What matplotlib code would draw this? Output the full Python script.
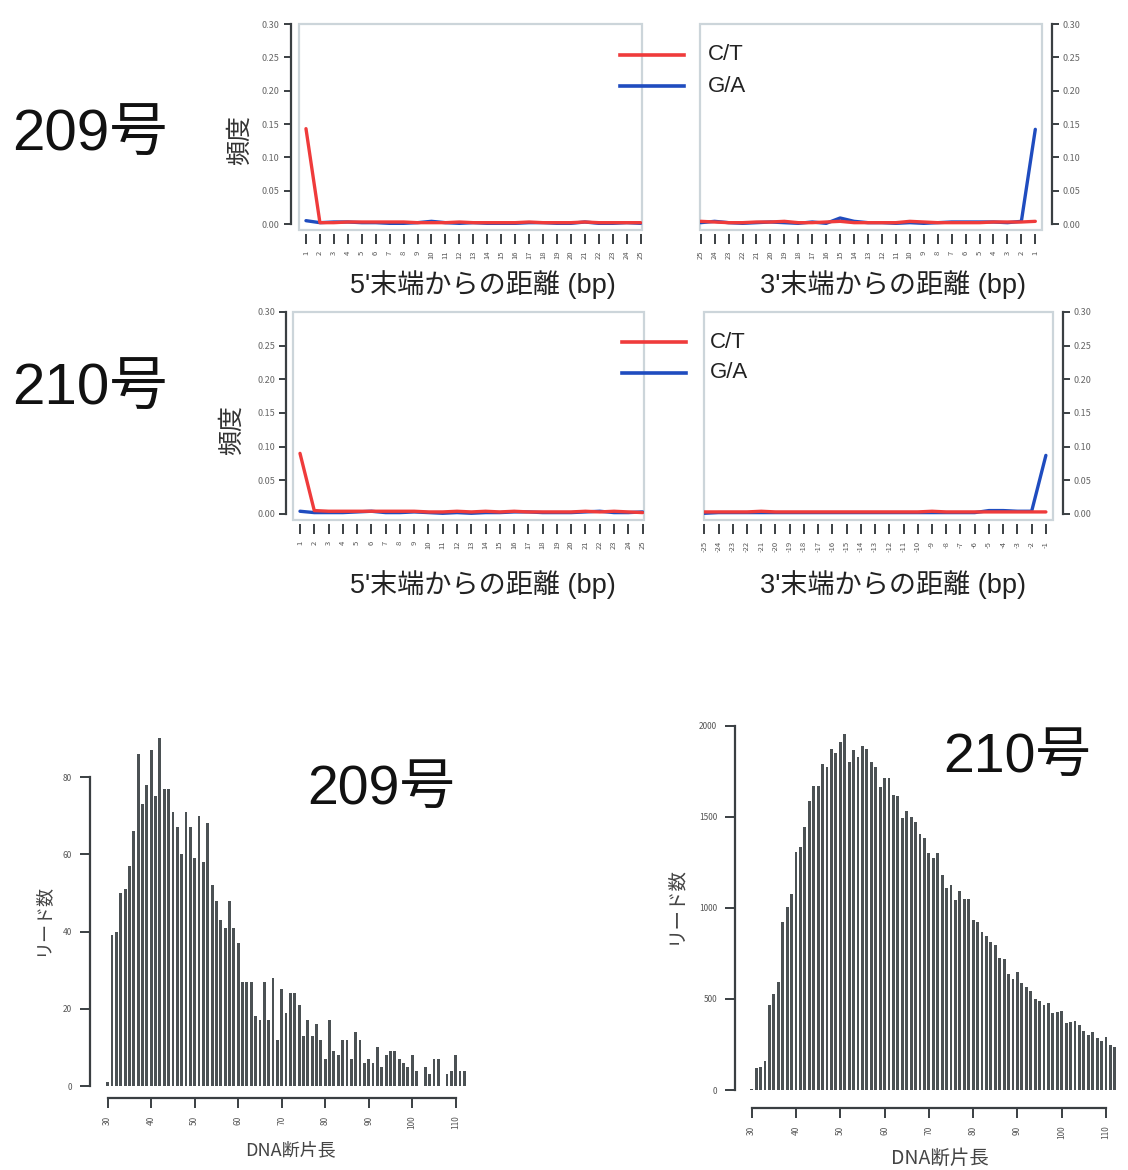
import matplotlib
matplotlib.use("Agg")
import matplotlib.pyplot as plt
from matplotlib.patches import Rectangle

W, H = 1128, 1170
JP = ["Noto Sans CJK JP", "DejaVu Sans"]
LAT = ["Liberation Sans", "Noto Sans CJK JP"]
plt.rcParams["font.family"] = JP

RED = "#ef3b3b"
BLUE = "#1f4cbf"
DARK = "#3a3f42"
BOX = "#ccd5da"
BAR = "#4b5154"

# damage plots: positions 1..25 from the read end
pos = list(range(1, 26))
labels_5p = [str(i) for i in range(1, 26)]
labels_3p_209 = [str(i) for i in range(25, 0, -1)]
labels_3p_210 = [str(-i) for i in range(25, 0, -1)]

ct_209_5 = [0.143, 0.002, 0.002, 0.003, 0.003, 0.003, 0.003, 0.003, 0.002, 0.002, 0.002, 0.003, 0.002,
            0.002, 0.002, 0.002, 0.003, 0.002, 0.002, 0.002, 0.003, 0.002, 0.002, 0.002, 0.002]
ga_209_5 = [0.005, 0.002, 0.003, 0.003, 0.002, 0.002, 0.001, 0.001, 0.002, 0.004, 0.002, 0.001, 0.002,
            0.001, 0.001, 0.001, 0.002, 0.002, 0.001, 0.001, 0.003, 0.001, 0.001, 0.002, 0.001]
ct_209_3 = [0.004, 0.003, 0.002, 0.002, 0.003, 0.003, 0.004, 0.002, 0.002, 0.003, 0.004, 0.002, 0.002,
            0.002, 0.002, 0.004, 0.003, 0.002, 0.002, 0.002, 0.002, 0.003, 0.003, 0.003, 0.004]
ga_209_3 = [0.002, 0.004, 0.002, 0.001, 0.002, 0.003, 0.002, 0.001, 0.003, 0.001, 0.009, 0.004, 0.002,
            0.002, 0.001, 0.002, 0.001, 0.002, 0.003, 0.003, 0.003, 0.003, 0.002, 0.004, 0.142]
ct_210_5 = [0.090, 0.005, 0.004, 0.004, 0.004, 0.004, 0.004, 0.004, 0.004, 0.003, 0.003, 0.004, 0.003,
            0.004, 0.003, 0.004, 0.003, 0.003, 0.003, 0.003, 0.004, 0.003, 0.004, 0.003, 0.002]
ga_210_5 = [0.004, 0.002, 0.002, 0.002, 0.003, 0.004, 0.002, 0.002, 0.003, 0.002, 0.001, 0.002, 0.001,
            0.002, 0.002, 0.003, 0.003, 0.002, 0.002, 0.002, 0.003, 0.004, 0.002, 0.002, 0.003]
ct_210_3 = [0.003, 0.003, 0.003, 0.003, 0.004, 0.003, 0.003, 0.003, 0.003, 0.003, 0.003, 0.003, 0.003,
            0.003, 0.003, 0.003, 0.004, 0.003, 0.003, 0.003, 0.003, 0.003, 0.003, 0.003, 0.003]
ga_210_3 = [0.001, 0.002, 0.002, 0.002, 0.002, 0.002, 0.002, 0.002, 0.002, 0.002, 0.002, 0.002, 0.002,
            0.002, 0.002, 0.002, 0.002, 0.002, 0.002, 0.002, 0.005, 0.005, 0.004, 0.004, 0.087]
freq_ticks = [0.00, 0.05, 0.10, 0.15, 0.20, 0.25, 0.30]

# fragment length histograms
lengths = list(range(30, 113))
reads_209 = [1, 39, 40, 50, 51, 57, 66, 86, 73, 78, 87, 75, 90, 77, 77, 71, 67, 60, 71, 67,
             59, 70, 58, 68, 52, 48, 43, 41, 48, 41, 37, 27, 27, 27, 18, 17, 27, 17, 28, 12,
             25, 19, 24, 24, 21, 13, 17, 13, 16, 12, 7, 17, 9, 8, 12, 12, 7, 14, 12, 6,
             7, 6, 10, 5, 8, 9, 9, 7, 6, 5, 8, 4, 0, 5, 3, 7, 7, 0, 3, 4,
             8, 4, 4]
reads_210 = [5, 119, 128, 159, 467, 527, 591, 924, 1006, 1074, 1308, 1336, 1442, 1588, 1669, 1669,
             1788, 1775, 1870, 1848, 1908, 1954, 1802, 1866, 1830, 1888, 1870, 1802, 1771, 1661,
             1711, 1711, 1619, 1614, 1495, 1532, 1500, 1469, 1403, 1385, 1303, 1272, 1303, 1180,
             1111, 1125, 1043, 1092, 1048, 1047, 933, 924, 869, 847, 811, 796, 723, 719, 637,
             608, 646, 586, 567, 543, 498, 489, 467, 476, 421, 430, 434, 366, 375, 381, 357,
             324, 302, 320, 287, 269, 293, 247, 238]
len_ticks = [30, 40, 50, 60, 70, 80, 90, 100, 110]
ticks_209 = [0, 20, 40, 60, 80]
ticks_210 = [0, 500, 1000, 1500, 2000]

fig = plt.figure(figsize=(W / 100, H / 100), dpi=100)
fig.patch.set_facecolor("white")


def px_axes(l, t, r, b):
    return fig.add_axes([l / W, 1 - b / H, (r - l) / W, (b - t) / H])


def ftext(x, y, s, **kw):
    fig.text(x / W, 1 - y / H, s, **kw)


def damage_panel(box, xlim, ct, ga, labels, side, gap):
    ax = px_axes(*box)
    ax.plot(pos, ga, color=BLUE, lw=2.4, solid_capstyle="round")
    ax.plot(pos, ct, color=RED, lw=2.4, solid_capstyle="round")
    ax.set_xlim(*xlim)
    ax.set_ylim(-0.009, 0.30)
    ax.add_patch(Rectangle((0, 0), 1, 1, transform=ax.transAxes, fill=False,
                           edgecolor=BOX, lw=1.6, clip_on=False))
    for s in ["top", "left", "right", "bottom"]:
        ax.spines[s].set_visible(False)
    ax.spines[side].set_visible(True)
    ax.spines[side].set_position(("outward", gap))
    ax.spines[side].set_bounds(0, 0.30)
    ax.spines[side].set_color(DARK)
    ax.spines[side].set_linewidth(1.6)
    ax.spines["bottom"].set_position(("outward", 3))
    if side == "right":
        ax.yaxis.tick_right()
    ax.set_yticks(freq_ticks)
    ax.set_yticklabels([f"{v:.2f}" for v in freq_ticks])
    ax.tick_params(axis="y", length=5, width=1.4, color=DARK, labelsize=6.5,
                   labelcolor="#666666", pad=3)
    ax.set_xticks(pos)
    ax.set_xticklabels(labels, rotation=90)
    ax.tick_params(axis="x", length=7, width=1.4, color=DARK, labelsize=5.5,
                   labelcolor="#555555", pad=5)
    ax.patch.set_alpha(0)
    return ax


damage_panel((299, 24, 642, 230), (0.5, 25.1), ct_209_5, ga_209_5, labels_5p, "left", 6)
damage_panel((700, 24, 1042, 230), (0.95, 25.48), ct_209_3, ga_209_3, labels_3p_209, "right", 7)
damage_panel((293, 312, 644, 520), (0.51, 25.1), ct_210_5, ga_210_5, labels_5p, "left", 5)
damage_panel((704, 312, 1053, 520), (0.98, 25.5), ct_210_3, ga_210_3, labels_3p_210, "right", 7)

# legends spanning the gap between the panels
for y0, x0 in [(55, 620), (342, 622)]:
    fig.add_artist(plt.Line2D([x0 / W, (x0 + 64) / W], [1 - y0 / H] * 2, color=RED, lw=2.6))
    fig.add_artist(plt.Line2D([x0 / W, (x0 + 64) / W], [1 - (y0 + 31) / H] * 2, color=BLUE, lw=2.6))
    ftext(x0 + 88, y0, "C/T", fontsize=16, family=LAT, va="center", color="#222222")
    ftext(x0 + 88, y0 + 31, "G/A", fontsize=16, family=LAT, va="center", color="#222222")

ftext(240, 140, "頻度", fontsize=18, rotation=90, ha="center", va="center", color="#333333")
ftext(232, 430, "頻度", fontsize=18, rotation=90, ha="center", va="center", color="#333333")
for y0 in [285, 585]:
    ftext(483, y0, "5'末端からの距離 (bp)", fontsize=19.5, family=LAT, ha="center", va="center",
          color="#222222")
    ftext(893, y0, "3'末端からの距離 (bp)", fontsize=19.5, family=LAT, ha="center", va="center",
          color="#222222")

ftext(90, 136, "209号", fontsize=42, family=LAT, ha="center", va="center", color="#111111")
ftext(90, 390, "210号", fontsize=42, family=LAT, ha="center", va="center", color="#111111")


def hist_panel(box, xlim, ylim, reads, yticks, gapx, gapy):
    ax = px_axes(*box)
    ax.bar(lengths, reads, width=0.65, color=BAR, linewidth=0)
    ax.set_xlim(*xlim)
    ax.set_ylim(*ylim)
    for s in ["top", "right"]:
        ax.spines[s].set_visible(False)
    ax.spines["left"].set_position(("outward", gapx))
    ax.spines["left"].set_bounds(yticks[0], yticks[-1])
    ax.spines["bottom"].set_position(("outward", gapy))
    ax.spines["bottom"].set_bounds(len_ticks[0], len_ticks[-1])
    for s in ["left", "bottom"]:
        ax.spines[s].set_color(DARK)
        ax.spines[s].set_linewidth(1.6)
    ax.set_yticks(yticks)
    ax.set_xticks(len_ticks)
    ax.set_xticklabels([str(v) for v in len_ticks], rotation=90)
    ax.tick_params(axis="both", length=7, width=1.4, color=DARK, labelsize=6,
                   labelcolor="#555555", pad=6)
    ax.patch.set_alpha(0)
    return ax


hist_panel((100, 720, 470, 1092), (28.23, 113.29), (-1.55, 94.76), reads_209, ticks_209, 7, 4)
hist_panel((745, 715, 1120, 1095), (28.49, 113.16), (-27.4, 2058.7), reads_210, ticks_210, 7, 9)

ftext(42, 920, "リード数", fontsize=13, rotation=90, ha="center", va="center", color="#444444")
ftext(675, 905, "リード数", fontsize=14, rotation=90, ha="center", va="center", color="#444444")
ftext(290, 1150, "DNA断片長", fontsize=13, ha="center", va="center", color="#444444")
ftext(940, 1158, "DNA断片長", fontsize=14, ha="center", va="center", color="#444444")
ftext(381, 790, "209号", fontsize=40, family=LAT, ha="center", va="center", color="#111111")
ftext(1017, 758, "210号", fontsize=40, family=LAT, ha="center", va="center", color="#111111")

fig.savefig("out.png", dpi=100, facecolor="white")
